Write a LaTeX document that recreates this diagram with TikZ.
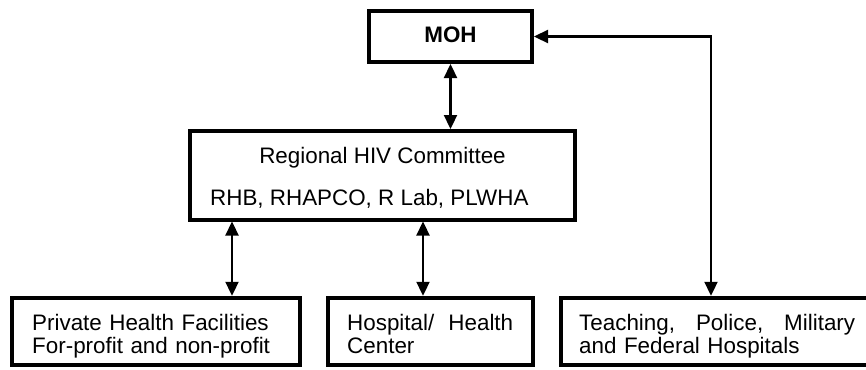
\documentclass[tikz,border=0pt]{standalone}
\usepackage{fontspec}
\setmainfont{Liberation Sans}
\usetikzlibrary{arrows.meta}
\begin{document}
\begin{tikzpicture}[x=1bp,y=-1bp,
  box/.style={draw, line width=4bp, inner sep=0pt},
  conn/.style={line width=2.3bp, {Triangle[length=14bp,width=13bp]}-{Triangle[length=14bp,width=13bp]}},
  txt/.style={inner sep=0pt, font=\fontsize{22.4bp}{23bp}\selectfont},
]
\useasboundingbox (0,0) rectangle (866,369);
% boxes
\node[box, minimum width=163bp, minimum height=51bp] (moh) at (450.5,36.5) {};
\node[box, minimum width=385bp, minimum height=88.5bp] (reg) at (382.5,175.25) {};
\node[box, minimum width=287.5bp, minimum height=67.5bp] (b1) at (156.25,331.5) {};
\node[box, minimum width=204.5bp, minimum height=67.5bp] (b2) at (430.25,331.5) {};
\node[box, minimum width=319bp, minimum height=67.5bp] (b3) at (720.5,331.5) {};
% texts
\node[txt, font=\fontsize{22.4bp}{23bp}\selectfont\bfseries, anchor=base] (tmoh) at (450.5,42) {MOH};
\node[txt, anchor=base] (treg1) at (382.5,163) {Regional HIV Committee};
\node[txt, anchor=base west] (treg2) at (210,205) {RHB, RHAPCO, R Lab, PLWHA};
\node[txt, anchor=base west, text width=240bp, align=left] (t1) at (32,330)
  {Private Health Facilities\\For-profit and non-profit};
\node[txt, anchor=base west, text width=166bp, align=left] (t2) at (347,330)
  {Hospital/\hfill Health\\Center};
\node[txt, anchor=base west, text width=276bp, align=left] (t3) at (579,330)
  {Teaching,\hfill Police,\hfill Military\\and Federal Hospitals};
% connectors
\coordinate (x1) at (232,0);
\coordinate (x2) at (423,0);
\coordinate (x3) at (711,0);
\draw[conn] (moh.south) -- (moh.south |- reg.north);
\draw[conn] (x1 |- reg.south) -- (x1 |- b1.north);
\draw[conn] (x2 |- reg.south) -- (x2 |- b2.north);
\draw[conn] (moh.east) -| (x3 |- b3.north);
\end{tikzpicture}
\end{document}
